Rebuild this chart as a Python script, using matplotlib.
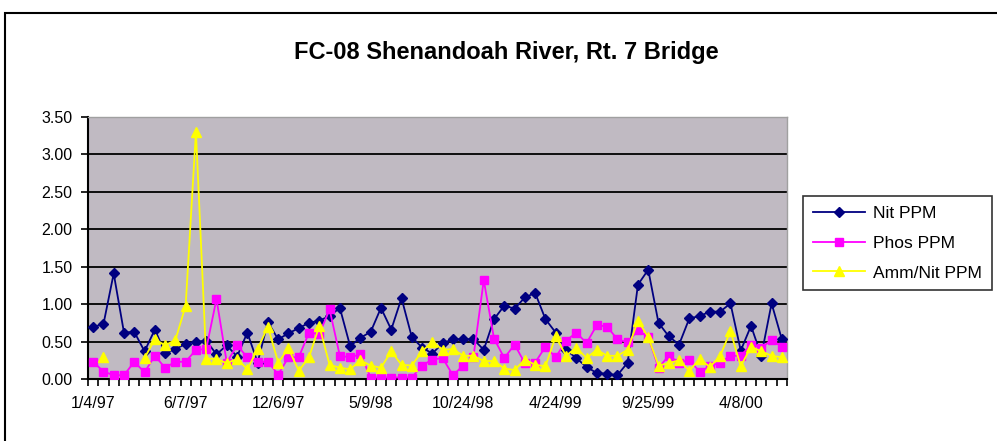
import numpy as np
import matplotlib
matplotlib.use("Agg")
import matplotlib.pyplot as plt
from matplotlib.patches import Rectangle

nan = np.nan
title = "FC-08 Shenandoah River, Rt. 7 Bridge"
series_names = ["Nit PPM", "Phos PPM", "Amm/Nit PPM"]
tick_labels = ["1/4/97", "6/7/97", "12/6/97", "5/9/98", "10/24/98",
               "4/24/99", "9/25/99", "4/8/00"]
label_step = 9

nit = [0.70, 0.73, 1.41, 0.62, 0.63, 0.37, 0.66, 0.35, 0.40, 0.47,
       0.50, 0.51, 0.33, 0.45, 0.30, 0.62, 0.22, 0.76, 0.53, 0.61,
       0.68, 0.75, 0.78, 0.84, 0.95, 0.44, 0.55, 0.63, 0.95, 0.66,
       1.08, 0.56, 0.42, 0.34, 0.48, 0.53, 0.53, 0.53, 0.39, 0.80,
       0.98, 0.94, 1.09, 1.15, 0.80, 0.62, 0.39, 0.28, 0.16, 0.08,
       0.07, 0.05, 0.22, 1.26, 1.46, 0.75, 0.57, 0.46, 0.81, 0.84,
       0.90, 0.90, 1.01, 0.38, 0.71, 0.31, 1.01, 0.53]
phos = [0.23, 0.10, 0.05, 0.05, 0.23, 0.09, 0.31, 0.15, 0.23, 0.23,
        0.39, 0.40, 1.07, 0.22, 0.45, 0.29, 0.23, 0.23, 0.06, 0.29,
        0.29, 0.62, 0.60, 0.93, 0.31, 0.29, 0.33, 0.02, 0.02, 0.02,
        0.02, 0.02, 0.18, 0.26, 0.28, 0.05, 0.18, 0.30, 1.32, 0.54,
        0.28, 0.46, 0.21, 0.22, 0.43, 0.29, 0.51, 0.62, 0.48, 0.72,
        0.70, 0.53, 0.49, 0.65, 0.56, 0.15, 0.31, 0.22, 0.25, 0.10,
        0.17, 0.22, 0.31, 0.31, 0.46, 0.42, 0.52, 0.43]
amm = [nan, 0.30, nan, nan, nan, 0.28, 0.53, 0.45, 0.52, 0.98,
       3.30, 0.27, 0.27, 0.21, 0.27, 0.13, 0.40, 0.70, 0.22, 0.41,
       0.11, 0.29, 0.71, 0.19, 0.15, 0.13, 0.25, 0.18, 0.15, 0.37,
       0.19, 0.18, 0.37, 0.50, 0.39, 0.40, 0.31, 0.31, 0.24, 0.24,
       0.14, 0.12, 0.26, 0.19, 0.17, 0.57, 0.31, 0.42, 0.28, 0.39,
       0.31, 0.31, 0.39, 0.78, 0.56, 0.18, 0.21, 0.25, 0.11, 0.27,
       0.16, 0.31, 0.64, 0.17, 0.43, 0.37, 0.31, 0.29]

font = ["Liberation Sans", "DejaVu Sans"]
plt.rcParams["font.family"] = font

fig = plt.figure(figsize=(9.97, 4.41), dpi=100)
fig.patch.set_facecolor("white")
# chart area border
fig.patches.append(Rectangle((5 / 997, -0.01), 1.0, (441 - 13) / 441 + 0.01,
                             transform=fig.transFigure, fill=False,
                             edgecolor="black", linewidth=1.5))

ax = fig.add_axes([88 / 997, 62 / 441, 699 / 997, 262 / 441])
ax.set_facecolor("#c0bac2")
n = len(nit)
x = np.arange(n)

ax.set_ylim(0, 3.5)
ax.set_xlim(-0.5, n - 0.5)
yt = np.arange(0, 3.51, 0.5)
ax.set_yticks(yt)
ax.set_yticklabels([f"{v:.2f}" for v in yt], fontsize=11.5)
for v in yt[1:]:
    ax.axhline(v, color="black", linewidth=1.3, zorder=1)

ax.plot(x, nit, color="#000080", marker="D", markersize=5.5, linewidth=1.3,
        label=series_names[0], zorder=3)
ax.plot(x, phos, color="#ff00ff", marker="s", markersize=6, linewidth=1.3,
        label=series_names[1], zorder=3)
ax.plot(x, amm, color="#ffff00", marker="^", markersize=7, linewidth=1.3,
        label=series_names[2], zorder=4)

ax.set_xticks(np.arange(0, n, label_step)[:len(tick_labels)])
ax.set_xticklabels(tick_labels, fontsize=11.5)
ax.set_xticks(np.arange(-0.5, n, 1.0), minor=True)
ax.tick_params(axis="x", which="major", length=0, pad=12)
ax.tick_params(axis="x", which="minor", length=5, width=1.2, direction="out")
ax.tick_params(axis="y", which="major", length=5, width=1.2, direction="out", pad=6)

for s in ["top", "right"]:
    ax.spines[s].set_color("#a0a0a0")
    ax.spines[s].set_linewidth(1.0)
ax.spines["left"].set_linewidth(1.5)
ax.spines["bottom"].set_linewidth(1.5)

fig.text(506 / 997, 1 - 52 / 441, title, ha="center", va="center",
         fontsize=17, fontweight="bold")

leg = fig.legend(loc="upper left", bbox_to_anchor=(803 / 997, 1 - 196 / 441),
                 borderaxespad=0, fontsize=12.5, frameon=True, fancybox=False,
                 edgecolor="black", handlelength=3.0, labelspacing=0.85,
                 borderpad=0.55, handletextpad=0.5)
leg.get_frame().set_linewidth(1.2)

fig.savefig("out.png", dpi=100)
